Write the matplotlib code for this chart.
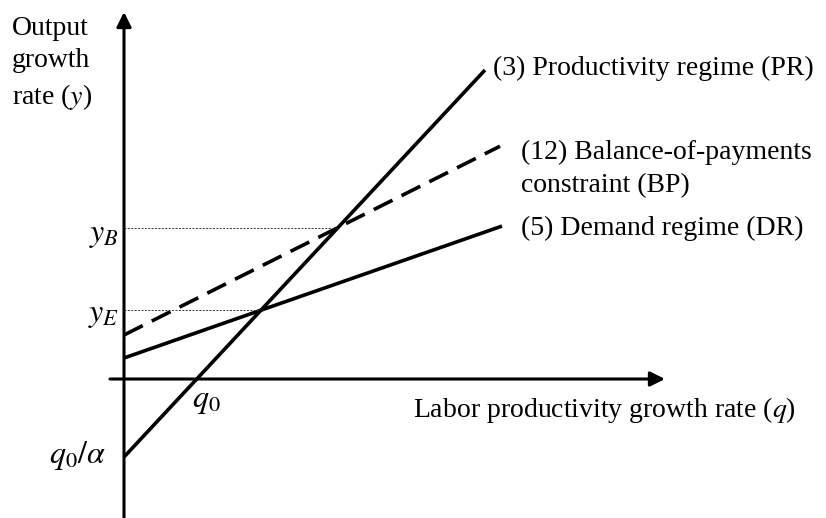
import numpy as np
import matplotlib
matplotlib.use("Agg")
import matplotlib.pyplot as plt

plt.rcParams['font.family'] = ['Liberation Serif', 'DejaVu Serif']
plt.rcParams['mathtext.fontset'] = 'stix'

# lines as intercept + slope*q (units: axis-crossing at origin)
line_names = ['(3) Productivity regime (PR)', '(12) Balance-of-payments\nconstraint (BP)',
              '(5) Demand regime (DR)']
intercepts = [-0.78, 0.44, 0.21]
slopes = [1.072, 0.502, 0.349]
q_end = [3.61, 3.76, 3.78]
styles = ['-', '--', '-']

fig = plt.figure(figsize=(8.26, 5.18), dpi=100)
ax = fig.add_axes([0, 0, 1, 1])
ax.set_xlim(-1.24, 7.02)
ax.set_ylim(-1.39, 3.79)
ax.axis('off')

fs = 20
mfs = 23

# axes with arrows
ax.annotate('', xy=(5.41, 0), xytext=(-0.14, 0),
            arrowprops=dict(arrowstyle='-|>', lw=2.2, color='black', mutation_scale=22,
                            shrinkA=0, shrinkB=0))
ax.annotate('', xy=(0, 3.67), xytext=(0, -1.66),
            arrowprops=dict(arrowstyle='-|>', lw=2.2, color='black', mutation_scale=22,
                            shrinkA=0, shrinkB=0))

for a, b, qe, ls in zip(intercepts, slopes, q_end, styles):
    q = np.array([0, qe])
    if ls == '--':
        ax.plot(q, a + b * q, color='black', lw=2.6, ls=(0, (5.8, 2.8)), solid_capstyle='butt')
    else:
        ax.plot(q, a + b * q, color='black', lw=2.6, solid_capstyle='butt')

# intersections PR with DR (E) and PR with BP (B)
qE = (intercepts[2] - intercepts[0]) / (slopes[0] - slopes[2])
yE = intercepts[0] + slopes[0] * qE
qB = (intercepts[1] - intercepts[0]) / (slopes[0] - slopes[1])
yB = intercepts[0] + slopes[0] * qB
ax.plot([0, qE], [yE, yE], color='#333333', lw=0.7, ls=(0, (2, 1.5)))
ax.plot([0, qB], [yB, yB], color='#333333', lw=0.7, ls=(0, (2, 1.5)))

# line labels
ax.text(3.69, 3.11, line_names[0], fontsize=fs, va='center', ha='left')
ax.text(3.97, 2.10, line_names[1], fontsize=fs, va='center', ha='left', linespacing=1.38)
ax.text(3.97, 1.51, line_names[2], fontsize=fs, va='center', ha='left')

# axis labels
ax.text(-1.12, 3.15, 'Output\ngrowth\nrate ($y$)', fontsize=fs, va='center', ha='left',
        linespacing=1.38)
ax.text(2.89, -0.31, 'Labor productivity growth rate ($q$)', fontsize=fs, va='center', ha='left')

# tick-like labels
ax.text(-0.05, yB - 0.08, '$y_B$', fontsize=mfs, va='center', ha='right')
ax.text(-0.05, yE - 0.05, '$y_E$', fontsize=mfs, va='center', ha='right')
q0 = -intercepts[0] / slopes[0]
ax.text(q0 + 0.1, -0.22, '$q_0$', fontsize=mfs, va='center', ha='center')
ax.text(-0.18, intercepts[0] + 0.02, r'$q_0/\alpha$', fontsize=mfs, va='center', ha='right')

fig.savefig('out.png', dpi=100)
